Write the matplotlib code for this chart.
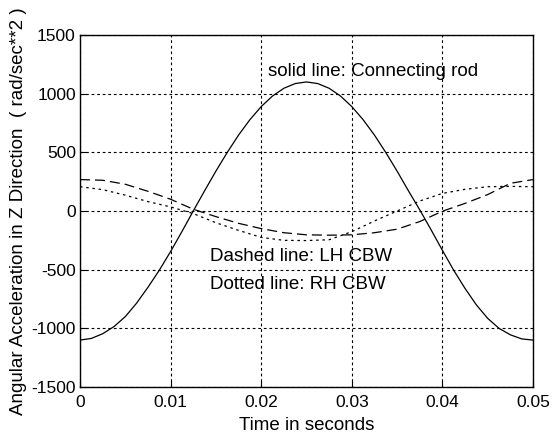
import matplotlib.pyplot as plt

plt.rcParams['font.family'] = ['Liberation Sans', 'DejaVu Sans']

# time samples (s)
t_rod = [i * 0.00125 for i in range(41)]
t_cbw = [i * 0.0025 for i in range(21)]

# connecting rod angular acceleration (rad/s^2)
rod = [-1100, -1086, -1046, -985, -900, -785, -650, -505, -345, -175,
       0, 172, 340, 499, 647, 778, 890, 980, 1046, 1086,
       1100, 1086, 1046, 980, 890, 778, 647, 499, 340, 172,
       10, -160, -335, -505, -660, -800, -915, -1000, -1055, -1090,
       -1100]

# left hand counterweight (dashed)
lh_cbw = [268, 262, 228, 168, 100, 15, -48, -105, -150, -185,
          -203, -206, -203, -185, -155, -90, -2, 65, 140, 236, 268]

# right hand counterweight (dotted)
rh_cbw = [207, 182, 135, 80, 35, -22, -100, -165, -225, -250,
          -252, -245, -176, -85, 0, 85, 150, 185, 207, 210, 207]

xticks = [0, 0.01, 0.02, 0.03, 0.04, 0.05]
xlabels = ['0', '0.01', '0.02', '0.03', '0.04', '0.05']
yticks = [-1500, -1000, -500, 0, 500, 1000, 1500]
ylabels = ['-1500', '-1000', '-500', '0', '500', '1000', '1500']

fig = plt.figure(figsize=(5.53, 4.37), dpi=100)
ax = fig.add_axes([0.1447, 0.1144, 0.8191, 0.8055])

ax.plot(t_rod, rod, color='black', lw=0.9)
ax.plot(t_cbw, lh_cbw, color='black', lw=0.9, dashes=(8, 4))
ax.plot(t_cbw, rh_cbw, color='black', lw=0.9, dashes=(2, 3))

ax.set_xlim(0, 0.05)
ax.set_ylim(-1500, 1500)
ax.set_xticks(xticks)
ax.set_xticklabels(xlabels)
ax.set_yticks(yticks)
ax.set_yticklabels(ylabels)
ax.tick_params(direction='in', length=4, labelsize=12.5, width=0.8, pad=3)
ax.tick_params(axis='x', pad=6)
ax.grid(True, color='black', lw=0.8, linestyle=(0, (2.5, 2.5)))

for s in ax.spines.values():
    s.set_linewidth(1.0)

ax.text(0.0207, 1186, 'solid line: Connecting rod', fontsize=13.5,
        va='center', ha='left')
ax.text(0.0143, -389, 'Dashed line: LH CBW', fontsize=13.5,
        va='center', ha='left')
ax.text(0.0143, -630, 'Dotted line: RH CBW', fontsize=13.5,
        va='center', ha='left')

ax.set_xlabel('Time in seconds', fontsize=13.5, labelpad=5)
ax.set_ylabel('Angular Acceleration in Z Direction  ( rad/sec**2 )',
              fontsize=13.5, labelpad=3)

fig.savefig('out.png', dpi=100)
